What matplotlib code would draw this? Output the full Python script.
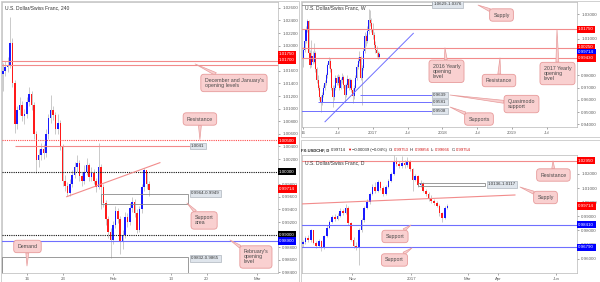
import matplotlib
matplotlib.use('Agg')
import matplotlib.pyplot as plt
import matplotlib.transforms as mtransforms
from matplotlib.patches import Rectangle
import numpy as np

plt.rcParams['font.family'] = ['Liberation Sans', 'DejaVu Sans']

# ---------------- data: 4h panel (USD/CHF, 240) ----------------
h4_first_open = 1.0155
h4_close = [1.0160, 1.0166, 1.0170, 1.0205, 1.0140, 1.0075, 1.0098, 1.0106, 1.0088, 1.0092,
            1.0110, 1.0124, 1.0106, 1.0060, 1.0018, 1.0026, 1.0036, 1.0030, 1.0060, 1.0085,
            1.0098, 1.0090, 1.0068, 1.0078, 1.0040, 0.9985, 0.9978, 0.9966, 0.9980, 0.9995,
            1.0008, 1.0013, 0.9993, 0.9985, 1.0000, 1.0010, 0.9992, 0.9998, 0.9985, 0.9976,
            1.0008, 0.9975, 0.9950, 0.9925, 0.9905, 0.9892, 0.9915, 0.9938, 0.9925, 0.9890,
            0.9900, 0.9928, 0.9920, 0.9942, 0.9952, 0.9935, 0.9908, 0.9940, 0.9975, 1.0003,
            0.9980, 0.9971]
h4_high = [1.0172, 1.0175, 1.0182, 1.0245, 1.0212, 1.0145, 1.0105, 1.0118, 1.0112, 1.0100,
           1.0118, 1.0135, 1.0128, 1.0110, 1.0064, 1.0036, 1.0045, 1.0044, 1.0068, 1.0092,
           1.0122, 1.0104, 1.0094, 1.0092, 1.0082, 1.0044, 0.9995, 0.9984, 0.9988, 1.0002,
           1.0016, 1.0026, 1.0018, 1.0000, 1.0010, 1.0022, 1.0014, 1.0008, 1.0005, 0.9990,
           1.0045, 1.0012, 0.9980, 0.9955, 0.9930, 0.9910, 0.9922, 0.9946, 0.9942, 0.9930,
           0.9908, 0.9936, 0.9934, 0.9950, 0.9960, 0.9956, 0.9940, 0.9946, 0.9980, 1.0006,
           1.0000, 0.9986]
h4_low = [1.0128, 1.0152, 1.0158, 1.0165, 1.0135, 1.0062, 1.0068, 1.0090, 1.0080, 1.0076,
          1.0085, 1.0104, 1.0098, 1.0052, 0.9998, 1.0008, 1.0018, 1.0020, 1.0024, 1.0052,
          1.0078, 1.0082, 1.0060, 1.0060, 1.0034, 0.9978, 0.9970, 0.9962, 0.9962, 0.9975,
          0.9990, 1.0000, 0.9986, 0.9978, 0.9980, 0.9994, 0.9986, 0.9985, 0.9980, 0.9968,
          0.9972, 0.9940, 0.9944, 0.9916, 0.9895, 0.9863, 0.9885, 0.9910, 0.9918, 0.9870,
          0.9878, 0.9895, 0.9912, 0.9915, 0.9936, 0.9928, 0.9902, 0.9904, 0.9935, 0.9970,
          0.9972, 0.9962]
h4_tick_pos = [0, 5, 12, 20, 25, 32]          # trading days from 16 Jan
h4_tick_labels = ['16', '23', 'Feb', '13', '20', 'Mar']
h4_yticks = [0.984, 0.986, 0.988, 0.992, 0.994, 0.996, 0.998, 1.002, 1.004, 1.006,
             1.008, 1.010, 1.012, 1.014, 1.016, 1.020, 1.022, 1.024, 1.026]

# ---------------- data: weekly panel ----------------
w_first_open = 0.9930
w_close = [1.0010, 1.0080, 1.0180, 1.0240, 0.9980, 0.9880, 0.9960, 0.9910, 0.9980, 0.9850,
           0.9760, 0.9700, 0.9620, 0.9580, 0.9640, 0.9700, 0.9740, 0.9800, 0.9880, 0.9920,
           0.9850, 0.9700, 0.9620, 0.9700, 0.9780, 0.9740, 0.9790, 0.9700, 0.9760, 0.9790,
           0.9720, 0.9640, 0.9720, 0.9770, 0.9700, 0.9760, 0.9680, 0.9630, 0.9700, 0.9780,
           0.9870, 0.9920, 0.9950, 0.9780, 0.9860, 1.0000, 1.0120, 1.0080, 1.0160, 1.0250,
           1.0230, 1.0175, 1.0130, 1.0050, 1.0010, 0.9980, 0.9950, 0.9971]
w_high = [1.0030, 1.0100, 1.0200, 1.0257, 1.0250, 1.0010, 1.0090, 1.0000, 1.0060, 1.0000,
          0.9870, 0.9800, 0.9720, 0.9640, 0.9660, 0.9720, 0.9760, 0.9820, 0.9900, 0.9950,
          0.9940, 0.9860, 0.9720, 0.9720, 0.9800, 0.9800, 0.9810, 0.9800, 0.9780, 0.9820,
          0.9800, 0.9730, 0.9740, 0.9800, 0.9780, 0.9780, 0.9770, 0.9700, 0.9720, 0.9800,
          0.9890, 0.9950, 1.0000, 0.9960, 0.9880, 1.0020, 1.0150, 1.0140, 1.0200, 1.0344,
          1.0330, 1.0270, 1.0230, 1.0150, 1.0080, 1.0040, 1.0000, 0.9990]
w_low = [0.9870, 0.9990, 1.0060, 1.0150, 0.9950, 0.9860, 0.9870, 0.9890, 0.9900, 0.9830,
         0.9740, 0.9680, 0.9600, 0.9500, 0.9560, 0.9620, 0.9680, 0.9720, 0.9780, 0.9860,
         0.9830, 0.9680, 0.9540, 0.9600, 0.9680, 0.9720, 0.9720, 0.9680, 0.9690, 0.9740,
         0.9700, 0.9590, 0.9620, 0.9700, 0.9680, 0.9690, 0.9660, 0.9570, 0.9610, 0.9690,
         0.9760, 0.9850, 0.9900, 0.9760, 0.9560, 0.9840, 0.9980, 1.0040, 1.0060, 1.0140,
         1.0200, 1.0150, 1.0100, 1.0020, 0.9980, 0.9950, 0.9935, 0.9943]
w_tick_pos = [2016.0, 2016.5, 2017.0, 2017.5, 2018.0, 2018.5, 2019.0, 2019.5]
w_tick_labels = ['16', 'Jul', '2017', 'Jul', '2018', 'Jul', '2019', 'Jul']
w_yticks = [0.94, 0.95, 0.96, 0.97, 0.98, 1.01, 1.03]

# ---------------- data: daily panel ----------------
d_first_open = 0.9700
d_close = [0.9720, 0.9745, 0.9730, 0.9800, 0.9712, 0.9690, 0.9725, 0.9680, 0.9760, 0.9820,
           0.9860, 0.9895, 0.9880, 0.9905, 0.9935, 0.9925, 0.9960, 0.9850, 0.9735, 0.9690,
           0.9680, 0.9800, 0.9870, 0.9960, 1.0000, 1.0060, 1.0110, 1.0080, 1.0140, 1.0100,
           1.0060, 1.0110, 1.0150, 1.0200, 1.0290, 1.0270, 1.0255, 1.0280, 1.0260, 1.0290,
           1.0235, 1.0160, 1.0185, 1.0120, 1.0135, 1.0080, 1.0060, 1.0020, 1.0010, 0.9995,
           0.9975, 0.9920, 0.9890, 0.9960, 0.9971]
d_high = [0.9735, 0.9760, 0.9765, 0.9810, 0.9805, 0.9725, 0.9740, 0.9735, 0.9770, 0.9835,
          0.9875, 0.9910, 0.9915, 0.9925, 0.9955, 0.9950, 0.9990, 0.9970, 0.9860, 0.9750,
          0.9720, 0.9815, 0.9885, 0.9975, 1.0020, 1.0075, 1.0130, 1.0140, 1.0160, 1.0150,
          1.0115, 1.0125, 1.0165, 1.0215, 1.0334, 1.0320, 1.0290, 1.0330, 1.0300, 1.0320,
          1.0300, 1.0245, 1.0200, 1.0195, 1.0155, 1.0145, 1.0095, 1.0070, 1.0050, 1.0025,
          1.0005, 0.9985, 0.9930, 0.9975, 0.9986]
d_low = [0.9685, 0.9705, 0.9715, 0.9720, 0.9700, 0.9675, 0.9680, 0.9655, 0.9670, 0.9750,
         0.9810, 0.9850, 0.9865, 0.9870, 0.9895, 0.9910, 0.9915, 0.9840, 0.9725, 0.9675,
         0.9660, 0.9555, 0.9790, 0.9860, 0.9950, 0.9990, 1.0050, 1.0065, 1.0070, 1.0085,
         1.0045, 1.0050, 1.0100, 1.0140, 1.0190, 1.0255, 1.0240, 1.0245, 1.0245, 1.0250,
         1.0220, 1.0080, 1.0150, 1.0105, 1.0110, 1.0070, 1.0045, 1.0005, 0.9995, 0.9980,
         0.9965, 0.9905, 0.9860, 0.9880, 0.9953]
d_tick_pos = [0, 44, 86, 109, 152]            # trading days from 1 Nov 2016
d_tick_labels = ['Nov', '2017', 'Mar', 'Apr', 'Jun']
d_yticks = [0.96, 0.97, 0.98, 0.99, 1.00, 1.01, 1.02]

# ---------------- styling constants ----------------
W, H = 600, 282
BLUE, RED = '#1a1aff', '#ff1a1a'
WICK = '#b5b5b5'
PINK_LINE = '#f28b8b'
SUP_BLUE = '#6f6fff'
CALL_FC, CALL_EC = '#f9d0d0', '#e79b9b'

fig = plt.figure(figsize=(W / 100, H / 100), dpi=100)
fig.patch.set_facecolor('white')


def px_axes(x0, y0, x1, y1):
    return fig.add_axes([x0 / W, 1 - y1 / H, (x1 - x0) / W, (y1 - y0) / H])


def frame(x0, y0, x1, y1):
    fig.add_artist(Rectangle((x0 / W, 1 - y1 / H), (x1 - x0) / W, (y1 - y0) / H,
                             transform=fig.transFigure, fill=False, ec='#c9c9c9', lw=0.6))


def style(ax, xlim, ylim, xt, xl, yt):
    ax.set_xlim(xlim)
    ax.set_ylim(ylim)
    ax.set_xticks(xt)
    ax.set_xticklabels(xl)
    ax.set_yticks(yt)
    ax.set_yticklabels([f'{v:.5f}' for v in yt])
    ax.yaxis.tick_right()
    ax.tick_params(labelsize=3.2, colors='#606060', length=1.5, width=0.4, pad=1.5)
    for s in ax.spines.values():
        s.set_color('#b8b8b8')
        s.set_linewidth(0.5)


def candles(ax, x, first_open, h, l, c, w):
    x = np.asarray(x, float)
    c = np.asarray(c, float)
    o = np.concatenate([[first_open], c[:-1]])
    up = c >= o
    ax.vlines(x, l, h, color=WICK, lw=0.5, zorder=2)
    body = np.where(np.abs(c - o) < 0.0002, 0.0002, c - o)
    ax.bar(x, body, bottom=o, width=w, color=np.where(up, BLUE, RED), lw=0, zorder=3)


def price_label(ax, y, text, fc, xoff=0.004):
    tr = mtransforms.blended_transform_factory(ax.transAxes, ax.transData)
    ax.text(1.0 + xoff, y, text, transform=tr, fontsize=3.2, color='white', ha='left',
            va='center', bbox=dict(boxstyle='square,pad=0.35', fc=fc, ec='none'),
            clip_on=False, zorder=20)


def zone_label(ax, x, y, text):
    ax.text(x, y, text, fontsize=3.2, color='#333333', ha='left', va='center',
            bbox=dict(boxstyle='square,pad=0.3', fc='#dfe5ec', ec='#9ea7b0', lw=0.4),
            zorder=7, clip_on=False)


def callout(ax, text, xy, xyt):
    ax.annotate(text, xy=xy, xytext=xyt, fontsize=3.8, color='#4a4a4a', ha='center',
                va='center', multialignment='left', linespacing=1.0,
                bbox=dict(boxstyle='round,pad=0.7,rounding_size=0.6', fc=CALL_FC, ec=CALL_EC, lw=0.6),
                arrowprops=dict(arrowstyle='wedge,tail_width=0.55,shrink_factor=0.5',
                                fc=CALL_FC, ec=CALL_EC, lw=0.5, shrinkA=0, shrinkB=0),
                zorder=9, annotation_clip=False)


# panel frames
frame(0.5, 0.5, 299, 281.5)
frame(301, 0.5, 599.5, 137)
frame(301, 140, 599.5, 281.5)

# ================= left: 4h =================
axL = px_axes(2, 2, 278, 273)
style(axL, (-3.43, 34.92), (0.98392, 1.02693), h4_tick_pos, h4_tick_labels, h4_yticks)
xL = [-3.33 + i / 3 for i in range(len(h4_close))]
candles(axL, xL, h4_first_open, h4_high, h4_low, h4_close, 0.22)

axL.axhline(1.0175, color=PINK_LINE, lw=0.8, zorder=4)
axL.axhline(1.0170, color=PINK_LINE, lw=0.8, zorder=4)
axL.axhline(1.0050, color='#ff4a4a', lw=0.8, ls=(0, (1, 1)), zorder=4)
axL.hlines(1.0041, -1.63, 22.7, color=PINK_LINE, lw=0.8, zorder=4)
axL.axhline(1.0000, color='#111111', lw=0.8, ls=(0, (1, 1)), zorder=4)
axL.axhline(0.9900, color='#111111', lw=0.8, ls=(0, (1, 1)), zorder=4)
axL.axhline(0.9890, color=SUP_BLUE, lw=0.8, zorder=4)
axL.plot([5.56, 18.51], [0.99603, 1.00143], color=PINK_LINE, lw=0.8, zorder=4)
axL.add_patch(Rectangle((10.32, 0.9949), 12.08, 0.0015, fill=False, ec='#8a8a8a', lw=0.6, zorder=5))
axL.add_patch(Rectangle((-3.43, 0.9832), 25.83, 0.0033, fill=False, ec='#8a8a8a', lw=0.6, zorder=5))
zone_label(axL, 22.85, 1.0041, '1.0041')
zone_label(axL, 22.85, 0.99655, '0.9964-0.9949')
zone_label(axL, 22.85, 0.98625, '0.9832-0.9865')

callout(axL, "December and January's\nopening levels", (23.4, 1.0171), (28.8, 1.01408))
callout(axL, 'Resistance', (24.07, 1.0051), (24.07, 1.00836))
callout(axL, 'Support\narea', (22.26, 0.99503), (24.65, 0.99226))
callout(axL, "February's\nopening\nlevel", (28.24, 0.98916), (31.85, 0.98646))
callout(axL, 'Demand', (0.04, 0.98503), (0.11, 0.98813))

price_label(axL, 1.0186, '1.01750', '#ff0000')
price_label(axL, 1.0177, '1.01700', '#ff0000')
price_label(axL, 1.0049, '1.00500', '#ff0000')
price_label(axL, 1.0000, '1.00000', '#000000')
price_label(axL, 0.99725, '0.99714', '#ff0000')
price_label(axL, 0.9900, '0.99000', '#000000')
price_label(axL, 0.9890, '0.98900', '#0000ff')
fig.text(5 / W, 1 - 8 / H, 'U.S. Dollar/Swiss Franc, 240', fontsize=3.6, color='#333333', va='center')

# ================= top right: weekly =================
axW = px_axes(302, 2, 577, 127)
style(axW, (2015.986, 2019.931), (0.9378, 1.0398), w_tick_pos, w_tick_labels, w_yticks)
xW = [2016.005 + k * 7 / 365.25 for k in range(len(w_close))]
candles(axW, xW, w_first_open, w_high, w_low, w_close, 0.0145)

for lvl in (1.0175, 1.0025, 0.9943):
    axW.axhline(lvl, color=PINK_LINE, lw=0.8, zorder=4)
axW.hlines(0.9639, 2016.818, 2017.851, color=SUP_BLUE, lw=0.7, zorder=4)
axW.hlines(0.9581, 2016.215, 2017.851, color=SUP_BLUE, lw=0.7, zorder=4)
axW.hlines(0.9508, 2015.960, 2017.851, color=SUP_BLUE, lw=0.7, zorder=4)
axW.plot([2016.316, 2017.583], [0.94208, 1.01424], color=SUP_BLUE, lw=0.7, zorder=4)
axW.add_patch(Rectangle((2015.96, 1.0376), 1.89, 0.0253, fill=False, ec='#8a8a8a', lw=0.6, zorder=5))
zone_label(axW, 2017.87, 1.0380, '1.0629-1.0376')
zone_label(axW, 2017.87, 0.9639, '0.9639')
zone_label(axW, 2017.87, 0.9581, '0.9581')
zone_label(axW, 2017.87, 0.9508, '0.9508')

callout(axW, '2016 Yearly\nopening\nlevel', (2018.037, 1.0024), (2018.059, 0.98327))
callout(axW, 'Resistance', (2018.826, 0.9942), (2018.812, 0.97571))
callout(axW, '2017 Yearly\nopening\nlevel', (2019.644, 1.0174), (2019.651, 0.98143))
callout(axW, 'Supply', (2018.511, 1.0373), (2018.848, 1.02918))
callout(axW, 'Quasimodo\nsupport', (2018.109, 0.9639), (2019.135, 0.95653))
callout(axW, 'Supports', (2018.109, 0.9541), (2018.525, 0.94429))

price_label(axW, 1.0175, '1.01750', '#ff0000')
price_label(axW, 1.0028, '1.00250', '#ff0000')
price_label(axW, 0.9987, '0.99714', '#0000ff')
price_label(axW, 0.9941, '0.99430', '#ff0000')
fig.text(305 / W, 1 - 8 / H, 'U.S. Dollar/Swiss Franc, W', fontsize=3.6, color='#333333', va='center')

# ================= bottom right: daily =================
axD = px_axes(302, 155, 577, 273)
style(axD, (-37.5, 167.7), (0.9498, 1.0334), d_tick_pos, d_tick_labels, d_yticks)
xD = [-37 + 2 * j for j in range(len(d_close))]
candles(axD, xD, d_first_open, d_high, d_low, d_close, 1.25)

axD.axhline(1.0295, color=PINK_LINE, lw=0.8, zorder=4)
axD.axhline(0.9841, color=SUP_BLUE, lw=0.8, zorder=4)
axD.axhline(0.9679, color=SUP_BLUE, lw=0.8, zorder=4)
axD.plot([-39, 121.4], [0.99869, 1.00507], color=PINK_LINE, lw=0.8, zorder=4)
axD.add_patch(Rectangle((49, 1.0117), 50, 0.0019, fill=False, ec='#8a8a8a', lw=0.6, zorder=5))
zone_label(axD, 101.3, 1.0127, '1.0136-1.0117')

callout(axD, 'Resistance', (149.8, 1.0292), (150.1, 1.01923))
callout(axD, 'Supply', (125.1, 1.01073), (144.2, 1.00330))
callout(axD, 'Support', (43.8, 0.9838), (31.9, 0.97568))
callout(axD, 'Support', (44.6, 0.9676), (31.5, 0.95903))

price_label(axD, 1.0295, '1.02950', '#ff0000')
price_label(axD, 0.99728, '0.99714', '#ff0000')
price_label(axD, 0.9841, '0.98410', '#0000ff')
price_label(axD, 0.9679, '0.96790', '#0000ff')
fig.text(305 / W, 1 - 163 / H, 'U.S. Dollar/Swiss Franc, D', fontsize=3.6, color='#333333', va='center')

# header line of daily panel
renderer = fig.canvas.get_renderer()
parts = [('FX:USDCHF, D', '#222222', 'bold', 1.5),
         ('0.99714', '#222222', 'normal', 1.0),
         ('\u25BC', '#e00000', 'normal', 1.0),
         ('\u22120.00039 (\u22120.04%)', '#222222', 'normal', 1.5),
         ('O:', '#222222', 'normal', 0.6), ('0.99753', '#d01010', 'normal', 1.5),
         ('H:', '#222222', 'normal', 0.6), ('0.99856', '#d01010', 'normal', 1.5),
         ('L:', '#222222', 'normal', 0.6), ('0.99666', '#d01010', 'normal', 1.5),
         ('C:', '#222222', 'normal', 0.6), ('0.99754', '#d01010', 'normal', 1.5)]
xp = 301.5
for s, col, wt, gap in parts:
    t = fig.text(xp / W, 1 - 150 / H, s, fontsize=3.0, color=col, fontweight=wt,
                 va='center', ha='left')
    bb = t.get_window_extent(renderer)
    xp = bb.x1 + gap

fig.savefig('out.png', dpi=100, facecolor='white')
